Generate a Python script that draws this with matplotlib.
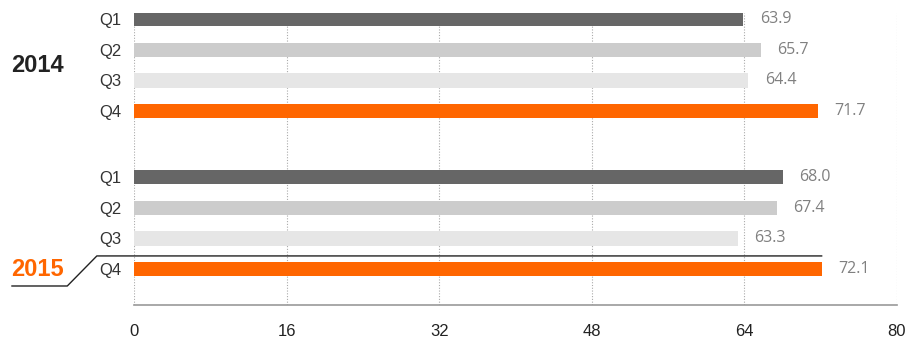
import matplotlib.pyplot as plt

# quarterly values per year
years = ["2014", "2015"]
quarters = ["Q1", "Q2", "Q3", "Q4"]
values_2014 = [63.9, 65.7, 64.4, 71.7]
values_2015 = [68.0, 67.4, 63.3, 72.1]
xticks = [0, 16, 32, 48, 64, 80]

COLORS = ["#666666", "#cccccc", "#e6e6e6", "#ff6600"]
ORANGE = "#ff6600"
FONT = ["Liberation Sans", "DejaVu Sans"]

plt.rcParams["font.family"] = FONT

fig = plt.figure(figsize=(9.1, 3.38), dpi=100)
ax = fig.add_axes([0.1473, 0.0976, 0.8384, 0.8639])

group_gap = 5.15
pos_2014 = [i for i in range(4)]
pos_2015 = [group_gap + i for i in range(4)]

for pos, vals in ((pos_2014, values_2014), (pos_2015, values_2015)):
    ax.barh(pos, vals, height=0.46, color=COLORS, zorder=3)
    for p, v in zip(pos, vals):
        ax.annotate(f"{v:.1f}", xy=(v, p), xytext=(12, 0),
                    textcoords="offset points", ha="left", va="center",
                    fontsize=11.5, color="#808080", family=["Open Sans", "DejaVu Sans"])

ax.set_xlim(0, 80)
ax.set_ylim(group_gap + 3 + 1.17, -0.2)
ax.set_xticks(xticks)
ax.set_xticklabels([str(t) for t in xticks], fontsize=12, color="#222222")
ax.set_yticks(pos_2014 + pos_2015)
ax.set_yticklabels(quarters * 2, fontsize=12, color="#333333")
ax.tick_params(length=0)
ax.tick_params(axis="x", pad=14)
ax.tick_params(axis="y", pad=9)

for t in xticks:
    ax.axvline(t, color="#aaaaaa", lw=0.8, ls=(0, (1, 1.5)), zorder=1)

for side in ("top", "left", "right"):
    ax.spines[side].set_visible(False)
ax.spines["bottom"].set_color("#999999")
ax.spines["bottom"].set_linewidth(1.2)

# year labels
ax.text(-0.126, 1.5, years[0], transform=ax.get_yaxis_transform(),
        ha="center", va="center", fontsize=17, fontweight="bold", color="#222222")
ax.text(-0.126, pos_2015[3], years[1], transform=ax.get_yaxis_transform(),
        ha="center", va="center", fontsize=17, fontweight="bold", color=ORANGE)

# bracket line under the current year
y_sep = pos_2015[2] + 0.57
ax.plot([-12.8, -7.0, -3.9, values_2015[3]], [y_sep + 0.98, y_sep + 0.98, y_sep, y_sep],
        color="#222222", lw=1, clip_on=False, zorder=4)

fig.savefig("out.png", dpi=100)
